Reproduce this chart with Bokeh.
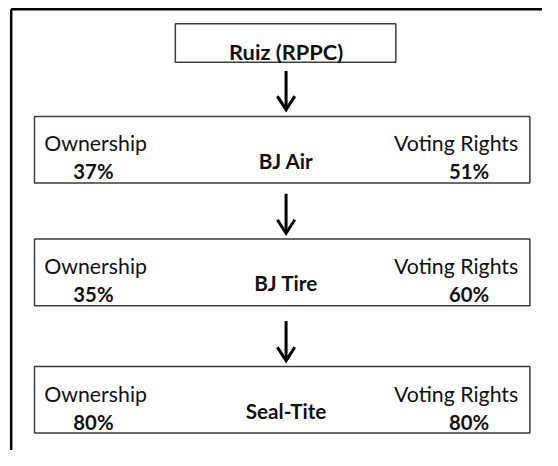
from bokeh.plotting import figure
from bokeh.models import Range1d, ColumnDataSource
from bokeh.core.properties import value
from bokeh.embed import file_html
from bokeh.resources import INLINE

# ---- data ----
parent = "Ruiz (RPPC)"
entities = ["BJ Air", "BJ Tire", "Seal-Tite"]
ownership = [37, 35, 80]
voting = [51, 60, 80]
left_label = "Ownership"
right_label = "Voting Rights"

# ---- layout (pixel space of the reference picture, 558 x 466) ----
W, H = 542, 450
box_left, box_right = 35, 545
box_tops = [120, 247, 379]
box_h = 69
parent_box = (180, 407, 24, 64)   # left, right, top, bottom
cx = 294
arrow_spans = [(73, 113), (200, 241), (332, 373)]

FONT = value("Lato")
TXT = "#111111"
BOX = "#3c3c3c"

p = figure(width=W, height=H, x_range=Range1d(0, 558), y_range=Range1d(466, 0),
           output_backend="svg", toolbar_location=None, x_axis_type=None, y_axis_type=None,
           min_border=0, outline_line_color=None)
p.grid.visible = False
p.background_fill_color = "white"

# outer frame (partially visible)
p.segment(x0=[11, 11], y0=[9, 9], x1=[11, 600], y1=[600, 9], line_color="black", line_width=2.5)

# parent box
p.quad(left=[parent_box[0]], right=[parent_box[1]], top=[parent_box[2]], bottom=[parent_box[3]],
       fill_color="white", line_color=BOX, line_width=1.5)
p.text(x=[cx], y=[53], text=[parent], text_font=FONT, text_font_style="bold",
       text_font_size="21.8px", text_align="center", text_baseline="alphabetic", text_color=TXT)

# entity boxes
tops = box_tops
bottoms = [t + box_h for t in tops]
src = ColumnDataSource(dict(
    top=tops, bottom=bottoms,
    left=[box_left] * 3, right=[box_right] * 3,
    name=entities,
    own=[f"{v}%" for v in ownership],
    vot=[f"{v}%" for v in voting],
    lab_y=[t + 28 for t in tops],
    pct_y=[t + 57 for t in tops],
    name_y=[t + 46 for t in tops],
    lx=[45] * 3, rx=[533] * 3, plx=[75] * 3, prx=[503] * 3, cxs=[cx] * 3,
    ll=[left_label] * 3, rl=[right_label] * 3,
))
p.quad(left="left", right="right", top="top", bottom="bottom", source=src,
       fill_color="white", line_color=BOX, line_width=1.5)
p.text(x="lx", y="lab_y", text="ll", source=src, text_font=FONT, text_font_size="21.3px",
       text_align="left", text_baseline="alphabetic", text_color=TXT)
p.text(x="rx", y="lab_y", text="rl", source=src, text_font=FONT, text_font_size="21.3px",
       text_align="right", text_baseline="alphabetic", text_color=TXT)
p.text(x="plx", y="pct_y", text="own", source=src, text_font=FONT, text_font_style="bold",
       text_font_size="20.3px", text_align="left", text_baseline="alphabetic", text_color=TXT)
p.text(x="prx", y="pct_y", text="vot", source=src, text_font=FONT, text_font_style="bold",
       text_font_size="20.3px", text_align="right", text_baseline="alphabetic", text_color=TXT)
p.text(x="cxs", y="name_y", text="name", source=src, text_font=FONT, text_font_style="bold",
       text_font_size="20.7px", text_align="center", text_baseline="alphabetic", text_color=TXT)

# arrows
xs, ys = [], []
for y0, y1 in arrow_spans:
    xs.append([cx, cx]); ys.append([y0, y1 - 1])
    xs.append([cx - 9, cx, cx + 9]); ys.append([y1 - 14, y1, y1 - 14])
p.multi_line(xs=xs, ys=ys, line_color="black", line_width=3, line_join="miter")

open("out.html", "w").write(file_html(p, INLINE))
